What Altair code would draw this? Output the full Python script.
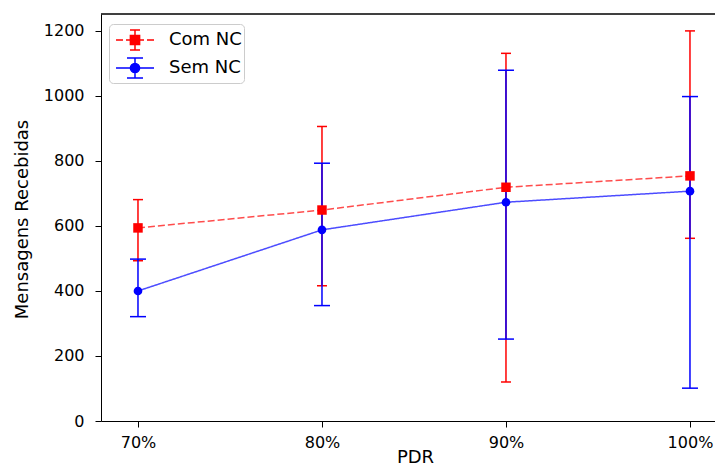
import altair as alt
import pandas as pd

pdr = [70, 80, 90, 100]
com_mean = [594, 649, 719, 754]
com_low = [493, 416, 120, 562]
com_high = [681, 906, 1131, 1200]
sem_mean = [400, 588, 673, 707]
sem_low = [321, 355, 252, 101]
sem_high = [498, 793, 1079, 998]
series_names = ["Com NC", "Sem NC"]
series_colors = ["#ff0000", "#0000ff"]
x_ticks = [70, 80, 90, 100]
y_ticks = [0, 200, 400, 600, 800, 1000, 1200]

rows = []
for name, m, lo, hi in [(series_names[0], com_mean, com_low, com_high),
                        (series_names[1], sem_mean, sem_low, sem_high)]:
    for p, a, b, c in zip(pdr, m, lo, hi):
        rows.append({"series": name, "pdr": p, "mean": a, "low": b, "high": c})
df = pd.DataFrame(rows)
leg_df = pd.DataFrame({"series": series_names})

FONT = "DejaVu Sans"
W, H = 614, 407
xscale = alt.Scale(domain=[67.99, 101.36], nice=False, zero=False)
yscale = alt.Scale(domain=[0, 1252], nice=False, zero=False)

xaxis = alt.Axis(values=x_ticks, labelExpr="datum.value + '%'", title="PDR",
                 grid=False, tickSize=6, labelPadding=7, labelFontSize=16,
                 titleFontSize=18, titleX=314, titleY=41, titleBaseline="alphabetic",
                 titleAlign="center")
yaxis = alt.Axis(values=y_ticks, format="d", title="Mensagens Recebidas", grid=False,
                 tickSize=6, labelPadding=11, labelFontSize=16, titleFontSize=18,
                 titleAngle=-90, titleX=-74, titleY=205, titleBaseline="alphabetic",
                 titleAlign="center")

X = alt.X("pdr:Q", scale=xscale, axis=xaxis)


def Y(field):
    return alt.Y(field, type="quantitative", scale=yscale, axis=yaxis)


styles = {
    "Com NC": dict(color="#ff0000", cap=10, dash=[7, 3], shape="square", size=90),
    "Sem NC": dict(color="#0000ff", cap=16, dash=[1, 0], shape="circle", size=75),
}

bars = []
fronts = []
for name in series_names:
    st = styles[name]
    base = alt.Chart(df).transform_filter(alt.datum.series == name)
    bars.append(base.mark_rule(color=st["color"], strokeWidth=1.5).encode(
        x=X, y=Y("low"), y2="high:Q"))
    bars.append(base.mark_tick(color=st["color"], orient="horizontal", size=st["cap"],
                               thickness=1.5, opacity=1).encode(x=X, y=Y("low")))
    bars.append(base.mark_tick(color=st["color"], orient="horizontal", size=st["cap"],
                               thickness=1.5, opacity=1).encode(x=X, y=Y("high")))
    fronts.append(base.mark_line(color=st["color"], strokeWidth=1.5, opacity=0.7,
                                 strokeDash=st["dash"]).encode(x=X, y=Y("mean")))
    fronts.append(base.mark_point(shape=st["shape"], filled=True, color=st["color"],
                                  size=st["size"], opacity=1).encode(x=X, y=Y("mean")))

# top spine of the frame (right spine falls outside the cropped figure)
top_spine = alt.Chart(leg_df).mark_rule(color="black", strokeWidth=1).encode(
    x=alt.value(0), x2=alt.value(W), y=alt.value(0))

# legend symbols (errorbar glyphs), in legend-symbol units
U = 13.0
DX = 10.0


def u(v):
    return f"{v / U:.3f}"


def glyph(dashes, cap, marker):
    p = ""
    for a, b in dashes:
        p += f"M{u(a + DX)},0L{u(b + DX)},0"
    p += f"M{u(DX)},{u(-10)}L{u(DX)},{u(10)}"
    p += (f"M{u(DX - cap)},{u(-10)}L{u(DX + cap)},{u(-10)}"
          f"M{u(DX - cap)},{u(10)}L{u(DX + cap)},{u(10)}")
    p += marker
    return p


r = 4.6
square = (f"M{u(DX - r)},{u(-r)}L{u(DX + r)},{u(-r)}L{u(DX + r)},{u(r)}"
          f"L{u(DX - r)},{u(r)}Z")
circle = (f"M{u(DX - r)},0A{u(r)},{u(r)} 0 1,0 {u(DX + r)},0"
          f"A{u(r)},{u(r)} 0 1,0 {u(DX - r)},0Z")
path_com = glyph([(-19, -12), (-9, -2), (2, 9), (12, 19)], 5, square)
path_sem = glyph([(-19, 19)], 8, circle)

leg = alt.Legend(orient="none", legendX=8, legendY=10, title=None, padding=2,
                 symbolSize=676, symbolStrokeWidth=1.5, symbolOpacity=1,
                 labelFont=FONT, labelFontSize=18, labelColor="black",
                 labelOffset=30, rowPadding=1, labelLimit=0,
                 strokeColor="#cccccc", fillColor="rgba(255,255,255,0.8)",
                 cornerRadius=4, labelBaseline="middle")
cscale = alt.Scale(domain=series_names, range=series_colors)
legend_layer = alt.Chart(leg_df).mark_point(opacity=0).encode(
    stroke=alt.Stroke("series:N", scale=cscale, legend=leg),
    fill=alt.Fill("series:N", scale=cscale, legend=leg),
    shape=alt.Shape("series:N", scale=alt.Scale(domain=series_names,
                                                 range=[path_com, path_sem]), legend=leg),
)

chart = alt.layer(*bars, *fronts, top_spine, legend_layer).properties(
    width=W, height=H,
    autosize=alt.AutoSizeParams(type="none"),
    padding={"left": 93, "top": 6, "right": 0, "bottom": 47},
    background="white",
).configure_view(stroke=None).configure_axis(
    labelFont=FONT, titleFont=FONT, labelColor="black", titleColor="black",
    domainColor="black", tickColor="black", domainWidth=1, tickWidth=1,
    titleFontWeight="normal",
)

chart.save("out.html", embed_options={"renderer": "svg", "actions": False})
